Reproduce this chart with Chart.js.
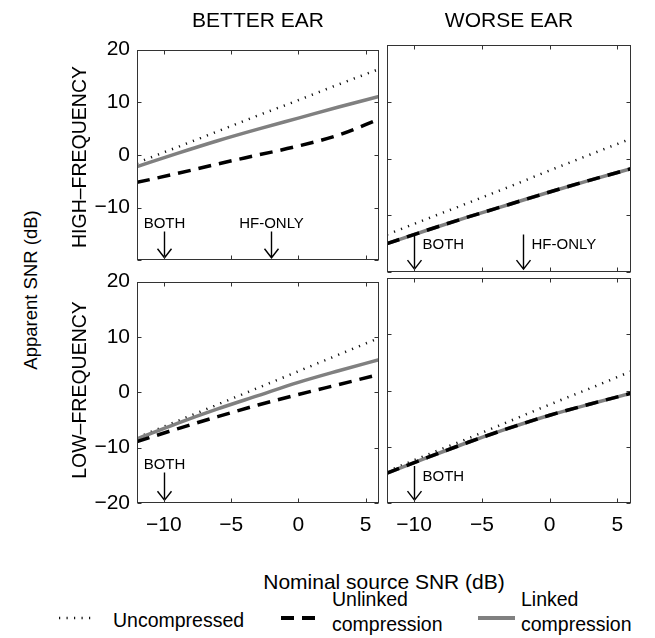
<!DOCTYPE html>
<html>
<head>
<meta charset="utf-8">
<script src="https://cdn.jsdelivr.net/npm/chart.js@4.4.0/dist/chart.umd.min.js"></script>
<style>
  body { margin: 0; background: #fff; }
  #page { position: relative; width: 655px; height: 638px; font-family: "Liberation Sans", Arial, sans-serif; color: #000; }
  canvas { position: absolute; }
  .txt { position: absolute; white-space: nowrap; line-height: 1; }
  .c { transform: translate(-50%, -50%); }
  .rot { transform: translate(-50%, -50%) rotate(-90deg); }
</style>
</head>
<body>
<div id="page">
  <canvas id="tl" width="330" height="250" style="left:55px;top:30px"></canvas>
  <canvas id="tr" width="270" height="250" style="left:380px;top:30px"></canvas>
  <canvas id="bl" width="330" height="296" style="left:55px;top:262px"></canvas>
  <canvas id="br" width="270" height="296" style="left:380px;top:262px"></canvas>

  <div class="txt c" style="left:258px;top:19px;font-size:21px">BETTER EAR</div>
  <div class="txt c" style="left:509px;top:19px;font-size:21px">WORSE EAR</div>
  <div class="txt rot" style="left:80px;top:157px;font-size:19.5px">HIGH–FREQUENCY</div>
  <div class="txt rot" style="left:80px;top:390px;font-size:19.5px">LOW–FREQUENCY</div>
  <div class="txt rot" style="left:31px;top:290px;font-size:18.5px">Apparent SNR (dB)</div>
  <div class="txt c" style="left:384px;top:581px;font-size:21px">Nominal source SNR (dB)</div>

  <canvas id="lgDot" width="44" height="12" style="left:58px;top:612px"></canvas>
  <div class="txt" style="left:113px;top:611px;font-size:19.5px">Uncompressed</div>
  <canvas id="lgDash" width="40" height="12" style="left:280px;top:612px"></canvas>
  <div class="txt" style="left:332px;top:587px;font-size:19.5px;line-height:25px">Unlinked<br>compression</div>
  <canvas id="lgLink" width="40" height="12" style="left:477px;top:612px"></canvas>
  <div class="txt" style="left:521px;top:587px;font-size:19.5px;line-height:25px">Linked<br>compression</div>
</div>
<script>
// nominal source SNR (dB) where the curves are read
const snrX = [-12, -9, -6, -3, 0, 3, 6];
const xTicks = [-10, -5, 0, 5];
const yTicks = [-20, -10, 0, 10, 20];

// high-frequency, better ear
const hfBetterUncomp = [-1.5, 1.5, 4.5, 7.5, 10.4, 13.4, 16.3];
const hfBetterUnlinked = [-5.2, -3.5, -1.7, 0.0, 1.7, 3.8, 6.8];
const hfBetterLinked = [-2.2, 0.3, 2.7, 4.9, 7.0, 9.1, 11.1];
// high-frequency, worse ear
const hfWorseUncomp = [-13.4, -10.6, -7.8, -5.0, -2.1, 0.7, 3.5];
const hfWorseUnlinked = [-15.0, -12.6, -10.3, -8.1, -5.9, -3.8, -1.8];
const hfWorseLinked = [-15.0, -12.6, -10.3, -8.1, -5.9, -3.8, -1.8];
// low-frequency, better ear
const lfBetterUncomp = [-8.2, -5.2, -2.2, 0.8, 3.8, 6.8, 9.8];
const lfBetterUnlinked = [-8.9, -6.6, -4.4, -2.3, -0.4, 1.4, 3.2];
const lfBetterLinked = [-8.4, -5.6, -3.0, -0.6, 1.8, 3.9, 5.9];
// low-frequency, worse ear
const lfWorseUncomp = [-14.4, -11.4, -8.5, -5.5, -2.5, 0.4, 3.4];
const lfWorseUnlinked = [-14.7, -11.9, -9.2, -6.7, -4.4, -2.4, -0.5];
const lfWorseLinked = [-14.7, -11.9, -9.2, -6.7, -4.4, -2.4, -0.5];

// arrows marking the SNR of the compression threshold
const hfArrowX = [-10, -2];
const hfArrowText = ['BOTH', 'HF-ONLY'];
const lfArrowX = [-10];
const lfArrowText = ['BOTH'];

const FONT = '"Liberation Sans", Arial, sans-serif';
const fmt = v => String(v).replace('-', '\u2212');
const pts = arr => arr.map((y, i) => ({ x: snrX[i], y: y }));

// box round the axes with ticks pointing in
const framePlugin = {
  id: 'frame',
  afterDraw(chart) {
    const { ctx, chartArea: a, scales } = chart;
    const l = Math.round(a.left) + 0.5, r = Math.round(a.right) - 0.5;
    const t = Math.round(a.top) + 0.5, b = Math.round(a.bottom) - 0.5;
    ctx.save();
    ctx.strokeStyle = '#333';
    ctx.lineWidth = 1;
    ctx.strokeRect(l, t, r - l, b - t);
    ctx.beginPath();
    xTicks.forEach(v => {
      const px = Math.round(scales.x.getPixelForValue(v)) + 0.5;
      ctx.moveTo(px, t); ctx.lineTo(px, t + 4);
      ctx.moveTo(px, b); ctx.lineTo(px, b - 4);
    });
    yTicks.forEach(v => {
      const py = Math.round(scales.y.getPixelForValue(v)) + 0.5;
      ctx.moveTo(l, py); ctx.lineTo(l + 4, py);
      ctx.moveTo(r, py); ctx.lineTo(r - 4, py);
    });
    ctx.stroke();
    ctx.restore();
  }
};

// down arrows with their labels
const arrowPlugin = {
  id: 'arrows',
  afterDatasetsDraw(chart, args, opts) {
    const { ctx, scales } = chart;
    ctx.save();
    ctx.strokeStyle = '#000';
    ctx.fillStyle = '#000';
    ctx.lineWidth = 1.4;
    ctx.font = '15px ' + FONT;
    opts.xs.forEach((v, i) => {
      const px = Math.round(scales.x.getPixelForValue(v)) + 0.5;
      const top = scales.y.getPixelForValue(opts.side === 'above' ? -14.5 : -13.4);
      const tip = scales.y.getPixelForValue(-19.5);
      ctx.beginPath();
      ctx.moveTo(px, top); ctx.lineTo(px, tip);
      ctx.moveTo(px - 7, tip - 9); ctx.lineTo(px, tip); ctx.lineTo(px + 7, tip - 9);
      ctx.stroke();
      if (opts.side === 'above') {
        ctx.textAlign = 'center';
        ctx.fillText(opts.texts[i], px, scales.y.getPixelForValue(-13.8));
      } else {
        ctx.textAlign = 'left';
        ctx.fillText(opts.texts[i], px + 8, scales.y.getPixelForValue(-16.0));
      }
    });
    ctx.restore();
  }
};

function makePanel(id, p) {
  const tickFont = { family: FONT, size: 21 };
  new Chart(document.getElementById(id), {
    type: 'line',
    data: {
      datasets: [
        { label: 'Unlinked compression', data: pts(p.unlinked), borderColor: '#000', borderWidth: 3.5, borderDash: [13, 8], order: 1 },
        { label: 'Linked compression', data: pts(p.linked), borderColor: '#808080', borderWidth: 3.5, order: 2 },
        { label: 'Uncompressed', data: pts(p.uncomp), borderColor: '#111', borderWidth: 2.5, borderDash: [1.2, 6.3], order: 3 }
      ]
    },
    options: {
      responsive: false,
      animation: false,
      devicePixelRatio: 1,
      layout: { padding: p.pad },
      elements: {
        point: { radius: 0 },
        line: { cubicInterpolationMode: 'monotone', fill: false, borderCapStyle: 'butt' }
      },
      plugins: {
        legend: { display: false },
        tooltip: { enabled: false },
        arrows: { xs: p.arrowX, texts: p.arrowText, side: p.side }
      },
      scales: {
        x: {
          type: 'linear', min: -12, max: 6,
          display: p.showX,
          afterBuildTicks: s => { s.ticks = xTicks.map(v => ({ value: v })); },
          afterFit: s => { s.height = p.showX ? 55 : 0; },
          grid: { display: false, drawTicks: false },
          border: { display: false },
          ticks: { font: tickFont, color: '#000', padding: 10, maxRotation: 0, callback: v => fmt(v) }
        },
        y: {
          type: 'linear', min: -20, max: 20,
          display: p.showY,
          afterBuildTicks: s => { s.ticks = yTicks.map(v => ({ value: v })); },
          afterFit: s => { s.width = p.showY ? 82 : 0; },
          grid: { display: false, drawTicks: false },
          border: { display: false },
          ticks: { font: tickFont, color: '#000', padding: 7, callback: v => (p.hideLow && v === -20) ? '' : fmt(v) }
        }
      }
    },
    plugins: [framePlugin, arrowPlugin]
  });
}

makePanel('tl', { uncomp: hfBetterUncomp, unlinked: hfBetterUnlinked, linked: hfBetterLinked,
  arrowX: hfArrowX, arrowText: hfArrowText, side: 'above', showX: false, showY: true, hideLow: true,
  pad: { left: 0, top: 15, right: 6, bottom: 8 } });
makePanel('tr', { uncomp: hfWorseUncomp, unlinked: hfWorseUnlinked, linked: hfWorseLinked,
  arrowX: hfArrowX, arrowText: hfArrowText, side: 'right', showX: false, showY: false,
  pad: { left: 7, top: 15, right: 19, bottom: 8 } });
makePanel('bl', { uncomp: lfBetterUncomp, unlinked: lfBetterUnlinked, linked: lfBetterLinked,
  arrowX: lfArrowX, arrowText: lfArrowText, side: 'above', showX: true, showY: true,
  pad: { left: 0, top: 16, right: 6, bottom: 0 } });
makePanel('br', { uncomp: lfWorseUncomp, unlinked: lfWorseUnlinked, linked: lfWorseLinked,
  arrowX: lfArrowX, arrowText: lfArrowText, side: 'right', showX: true, showY: false,
  pad: { left: 7, top: 16, right: 19, bottom: 0 } });

// legend samples
function sample(id, color, width, dash) {
  const ctx = document.getElementById(id).getContext('2d');
  ctx.strokeStyle = color;
  ctx.lineWidth = width;
  ctx.setLineDash(dash);
  ctx.beginPath();
  ctx.moveTo(1, 6); ctx.lineTo(38, 6);
  ctx.stroke();
}
sample('lgDot', '#111', 2.5, [1.2, 6.3]);
sample('lgDash', '#000', 4, [13, 8]);
sample('lgLink', '#808080', 4, []);
</script>
</body>
</html>
